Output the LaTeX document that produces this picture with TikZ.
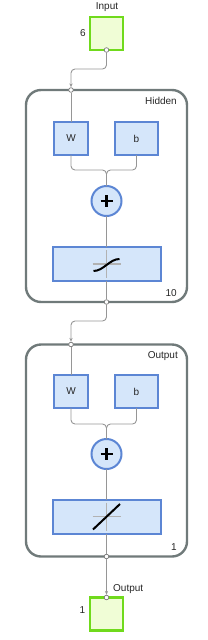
\documentclass[tikz,border=0pt]{standalone}
\usepackage{fontspec}
\setmainfont{Liberation Sans}
\usepackage{tikz}
\usetikzlibrary{
  arrows.meta,
  calc,
  positioning
}
\definecolor{ioedge}{RGB}{112,218,28}
\definecolor{iofill}{RGB}{240,253,214}
\definecolor{wtedge}{RGB}{92,134,212}
\definecolor{wtfill}{RGB}{213,230,250}
\definecolor{frame}{RGB}{112,122,122}
\definecolor{wire}{RGB}{150,150,150}
\tikzset{
  lbl/.style={ font=\fontsize{10}{12}\selectfont, text=black!85, inner sep=0pt },
  iobox/.style={
    draw=ioedge,
    fill=iofill,
    line width=2.4pt,
    minimum size=33pt,
    inner sep=0pt,
    outer sep=0pt
  },
  layer/.style={
    draw=frame,
    line width=2.4pt,
    rounded corners=15pt,
    minimum width=161pt,
    minimum height=212pt,
    outer sep=0pt
  },
  wtbox/.style={
    draw=wtedge,
    fill=wtfill,
    line width=2pt,
    minimum height=33pt,
    minimum width=#1,
    inner sep=0pt,
    outer sep=0pt,
    lbl
  },
  sumnode/.style={
    circle,
    draw=wtedge,
    fill=wtfill,
    line width=2pt,
    minimum size=30pt,
    inner sep=0pt,
    outer sep=0pt
  },
  port/.style={
    circle,
    draw=wire!80!black,
    fill=white,
    line width=0.7pt,
    minimum size=4.6pt,
    inner sep=0pt
  },
  wire/.style={ draw=wire, line width=0.9pt, rounded corners=4pt },
  arrow/.style={ -{Stealth[length=4pt,width=3.2pt]} },
  axis/.style={ draw=black!30, line width=1.2pt },
  curve/.style={ draw=black, line width=2pt },
  plus/.style={ draw=black, line width=2.4pt }
}

\begin{document}
\begin{tikzpicture}[x=1pt, y=-1pt, lbl]
  \useasboundingbox (0,0) rectangle (207,640);
  % input
  \node[iobox] (in) at (106.5,33.5) {};
  \node[lbl, anchor=base] at (107,9.5) {Input};
  \node[lbl, anchor=east] at (86,33.5) {6};
  \node[port] (inP) at (in.south) {};

  % hidden layer
  \node[layer] (hid) at (106.5,196) {};
  \node[lbl, anchor=east] at (177,101) {Hidden};
  \node[lbl, anchor=east] at (177,293) {10};
  \node[wtbox=34pt] (hidW) at (71,138.5) {W};
  \node[wtbox=43pt] (hidb) at (136.5,138.5) {b};
  \node[sumnode] (hidS) at (106.5,201) {};
  \node[wtbox=108pt, minimum height=34pt] (hidT) at (106.5,264) {};
  \node[port] (hidP) at (hidW.north |- hid.north) {};
  \node[port] (hidQ) at (hid.south) {};
  \coordinate (hidJ) at ($(hidS.north)+(0,-16)$);
  \draw[plus] ($(hidS)+(-6,0)$) -- ++(12,0) ($(hidS)+(0,-6)$) -- ++(0,12);
  \draw[axis] ($(hidT)+(-14,0)$) -- ++(28,0) ($(hidT.north)+(0,3)$) -- ($(hidT.south)+(0,-3)$);
  \draw[curve] ($(hidT)+(-13,7)$) .. controls +(10,0) and +(-10,0) .. ($(hidT)+(13,-5)$);

  % output layer
  \node[layer] (out) at (106.5,450.5) {};
  \node[lbl, anchor=base east] at (178,358) {Output};
  \node[lbl, anchor=east] at (177,547) {1};
  \node[wtbox=34pt] (outW) at (71,391.5) {W};
  \node[wtbox=43pt] (outb) at (136.5,391.5) {b};
  \node[sumnode] (outS) at (106.5,454) {};
  \node[wtbox=108pt, minimum height=34pt] (outT) at (106.5,516.5) {};
  \node[port] (outP) at (outW.north |- out.north) {};
  \node[port] (outQ) at (out.south) {};
  \coordinate (outJ) at ($(outS.north)+(0,-15)$);
  \draw[plus] ($(outS)+(-6,0)$) -- ++(12,0) ($(outS)+(0,-6)$) -- ++(0,12);
  \draw[axis] ($(outT)+(-14,0)$) -- ++(28,0) ($(outT.north)+(0,3)$) -- ($(outT.south)+(0,-3)$);
  \draw[curve] ($(outT)+(-13.5,13)$) -- ($(outT)+(13.5,-12.5)$);

  % result
  \node[iobox] (res) at (106.5,614) {};
  \node[lbl, anchor=base west] at (113,591) {Output};
  \node[lbl, anchor=east] at (85.5,610) {1};
  \node[port] (resP) at (res.north) {};

  % connectors
  \draw[wire, arrow] (inP) -- ++(0,19) -| (hidP);
  \draw[wire] (hidP) -- (hidW);
  \draw[wire] (hidW.south) |- (hidJ) -- (hidS);
  \draw[wire] (hidb.south) |- (hidJ) -- (hidS);
  \draw[wire] (hidS) -- (hidT);
  \draw[wire] (hidT) -- (hidQ);
  \draw[wire, arrow] (hidQ) -- ++(0,19) -| (outP);
  \draw[wire] (outP) -- (outW);
  \draw[wire] (outW.south) |- (outJ) -- (outS);
  \draw[wire] (outb.south) |- (outJ) -- (outS);
  \draw[wire] (outS) -- (outT);
  \draw[wire] (outT) -- (outQ);
  \draw[wire, arrow] (outQ) -- (resP);
\end{tikzpicture}
\end{document}
